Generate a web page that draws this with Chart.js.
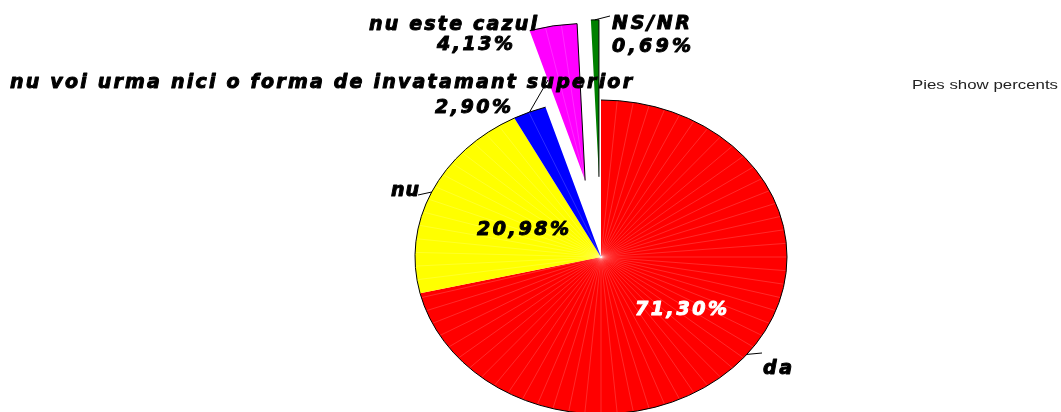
<!DOCTYPE html>
<html>
<head>
<meta charset="utf-8">
<title>Pie</title>
<script src="https://cdn.jsdelivr.net/npm/chart.js@4/dist/chart.umd.min.js"></script>
<style>
  html, body { margin: 0; padding: 0; background: #ffffff; }
  #wrap { width: 1061px; height: 412px; position: relative; overflow: hidden; }
  canvas { display: block; }
</style>
</head>
<body>
<div id="wrap"><canvas id="pie" width="1061" height="412"></canvas></div>
<script>
// ---- data ----
const categories = ['da', 'nu', 'nu voi urma nici o forma de invatamant superior', 'nu este cazul', 'NS/NR'];
const percents = [71.30, 20.98, 2.90, 4.13, 0.69];

// ---- styling ----
const sliceColors = ['#ff0000', '#ffff00', '#0000ff', '#ff00ff', '#008000'];
const pullOut = [0, 0, 0, 92, 95];          // radial offset of detached slices (px)
const SQUASH = 157 / 186;                   // vertical flattening of the pie
const FACET_STEP = 5 * Math.PI / 180;       // spacing of the faint radial facet lines
const LABEL_FONT = 'oblique bold 19px "DejaVu Sans", Verdana, sans-serif';

const fmtPct = v => v.toFixed(2).replace('.', ',') + '%';

// label placement per slice: category text, value text, leader line end
const labelLayout = [
  { name: { x: 763, y: 374, w: 29 }, value: { x: 635, y: 315, w: 92, color: '#ffffff' }, leader: [762, 353] },
  { name: { x: 391, y: 196, w: 28 }, value: { x: 477, y: 235, w: 92, color: '#000000' }, leader: [418, 195] },
  { name: { x: 10, y: 88, w: 622 }, value: { x: 435, y: 113, w: 76, color: '#000000' }, leader: [548, 80] },
  { name: { x: 369, y: 30, w: 168 }, value: { x: 437, y: 50, w: 76, color: '#000000' }, leader: null },
  { name: { x: 612, y: 29, w: 78 }, value: { x: 612, y: 52, w: 79, color: '#000000' }, leader: [610, 16] }
];

function spacedText(ctx, str, x, y, width, color) {
  ctx.save();
  ctx.font = LABEL_FONT;
  ctx.letterSpacing = '0px';
  const w0 = ctx.measureText(str).width;
  const gaps = Math.max(str.length - 1, 1);
  ctx.letterSpacing = ((width - w0) / gaps) + 'px';
  ctx.textAlign = 'left';
  ctx.textBaseline = 'alphabetic';
  ctx.fillStyle = color;
  ctx.strokeStyle = color;
  ctx.lineWidth = 1;
  ctx.lineJoin = 'round';
  ctx.fillText(str, x, y);
  ctx.strokeText(str, x, y);
  ctx.restore();
}

// flattened, partly exploded pie with facet lines and an outer outline
const ellipticPie = {
  id: 'ellipticPie',
  beforeDatasetsDraw(chart) {
    const ctx = chart.ctx;
    const arcs = chart.getDatasetMeta(0).data;
    arcs.forEach((arc, i) => {
      const mid = (arc.startAngle + arc.endAngle) / 2;
      const d = pullOut[i] || 0;
      ctx.save();
      ctx.translate(arc.x, arc.y);
      ctx.scale(1, SQUASH);
      ctx.translate(-arc.x, -arc.y);
      ctx.translate(Math.cos(mid) * d, Math.sin(mid) * d);
      arc.draw(ctx);
      // faint facet lines
      ctx.strokeStyle = 'rgba(255,255,255,0.3)';
      ctx.lineWidth = 0.6;
      ctx.beginPath();
      for (let a = arc.startAngle + FACET_STEP; a < arc.endAngle - 0.01; a += FACET_STEP) {
        ctx.moveTo(arc.x, arc.y);
        ctx.lineTo(arc.x + Math.cos(a) * arc.outerRadius, arc.y + Math.sin(a) * arc.outerRadius);
      }
      ctx.stroke();
      ctx.restore();

      // outline: outer rim, plus the closing edge for detached slices
      const cx = arc.x + Math.cos(mid) * d;
      const cy = arc.y + Math.sin(mid) * d * SQUASH;
      ctx.save();
      ctx.strokeStyle = '#000000';
      ctx.lineWidth = 1;
      ctx.beginPath();
      ctx.ellipse(cx, cy, arc.outerRadius, arc.outerRadius * SQUASH, 0, arc.startAngle, arc.endAngle);
      if (d > 0) ctx.lineTo(cx, cy);
      ctx.stroke();
      ctx.restore();
    });
    return false;
  },
  afterDraw(chart) {
    const ctx = chart.ctx;
    const arcs = chart.getDatasetMeta(0).data;
    arcs.forEach((arc, i) => {
      const lay = labelLayout[i];
      if (lay.leader) {
        const mid = (arc.startAngle + arc.endAngle) / 2;
        const d = pullOut[i] || 0;
        const r = arc.outerRadius;
        const sx = arc.x + Math.cos(mid) * (r + d);
        const sy = arc.y + Math.sin(mid) * (r + d) * SQUASH;
        ctx.save();
        ctx.strokeStyle = '#000000';
        ctx.lineWidth = 1;
        ctx.beginPath();
        ctx.moveTo(sx, sy);
        ctx.lineTo(lay.leader[0], lay.leader[1]);
        ctx.stroke();
        ctx.restore();
      }
      spacedText(ctx, categories[i], lay.name.x, lay.name.y, lay.name.w, '#000000');
      spacedText(ctx, fmtPct(percents[i]), lay.value.x, lay.value.y, lay.value.w, lay.value.color);
    });

    // note in the upper right
    ctx.save();
    ctx.font = '12px "Liberation Sans", Arial, sans-serif';
    ctx.fillStyle = '#222222';
    const note = 'Pies show percents';
    const w = ctx.measureText(note).width;
    ctx.translate(912, 89);
    ctx.scale(146 / w, 1.05);
    ctx.fillText(note, 0, 0);
    ctx.restore();
  }
};

new Chart(document.getElementById('pie'), {
  type: 'pie',
  data: {
    labels: categories,
    datasets: [{
      data: percents,
      backgroundColor: sliceColors,
      borderWidth: 0,
      clip: false
    }]
  },
  options: {
    responsive: false,
    maintainAspectRatio: false,
    devicePixelRatio: 1,
    animation: false,
    events: [],
    radius: 186,
    rotation: 0,
    layout: { padding: { left: 141, right: 0, top: 102, bottom: 0 } },
    plugins: {
      legend: { display: false },
      tooltip: { enabled: false }
    }
  },
  plugins: [ellipticPie]
});
</script>
</body>
</html>
